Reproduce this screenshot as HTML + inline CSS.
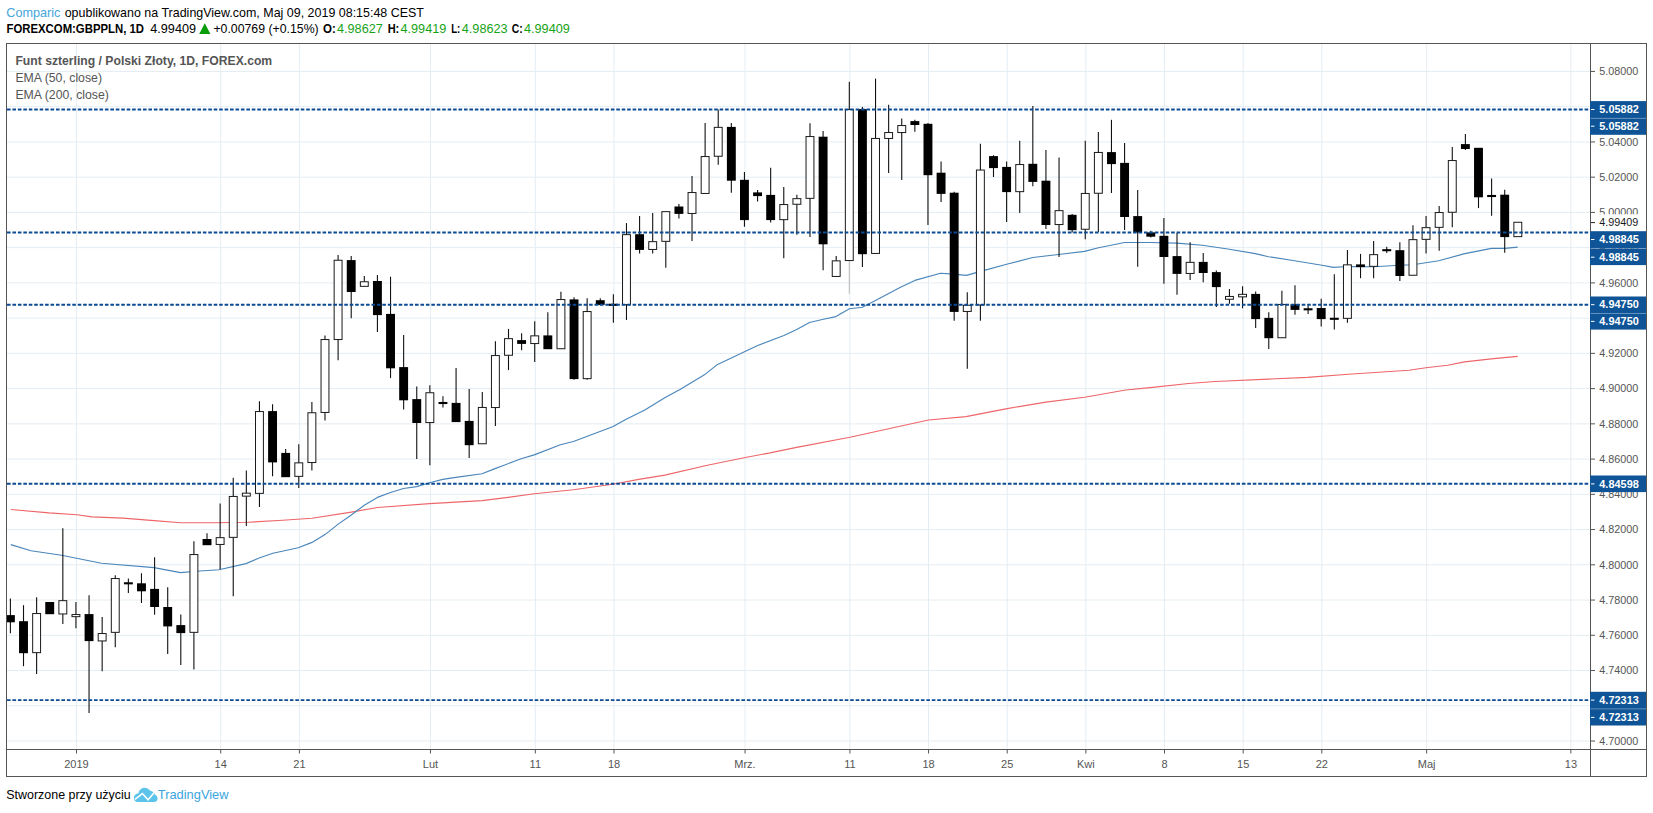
<!DOCTYPE html>
<html lang="pl"><head><meta charset="utf-8"><title>GBPPLN</title>
<style>html,body{margin:0;padding:0;background:#fff}body{width:1653px;height:813px;overflow:hidden}svg{display:block;position:absolute;left:0;top:0}text{font-family:"Liberation Sans",sans-serif}</style></head><body>
<svg width="1653" height="813" viewBox="0 0 1653 813">
<rect width="1653" height="813" fill="#fff"/>
<g stroke="#e4edf3" stroke-width="1" fill="none">
<path d="M7 71.45H1590"/>
<path d="M7 106.69H1590"/>
<path d="M7 141.93H1590"/>
<path d="M7 177.17H1590"/>
<path d="M7 212.41H1590"/>
<path d="M7 247.65H1590"/>
<path d="M7 282.89H1590"/>
<path d="M7 318.13H1590"/>
<path d="M7 353.37H1590"/>
<path d="M7 388.61H1590"/>
<path d="M7 423.85H1590"/>
<path d="M7 459.09H1590"/>
<path d="M7 494.33H1590"/>
<path d="M7 529.57H1590"/>
<path d="M7 564.81H1590"/>
<path d="M7 600.05H1590"/>
<path d="M7 635.29H1590"/>
<path d="M7 670.53H1590"/>
<path d="M7 705.77H1590"/>
<path d="M7 741.01H1590"/>
<path d="M76.54 44V749"/>
<path d="M220.73 44V749"/>
<path d="M299.38 44V749"/>
<path d="M430.46 44V749"/>
<path d="M535.32 44V749"/>
<path d="M613.97 44V749"/>
<path d="M745.05 44V749"/>
<path d="M849.91 44V749"/>
<path d="M928.56 44V749"/>
<path d="M1007.21 44V749"/>
<path d="M1085.86 44V749"/>
<path d="M1164.50 44V749"/>
<path d="M1243.15 44V749"/>
<path d="M1321.80 44V749"/>
<path d="M1426.66 44V749"/>
<path d="M1570.85 44V749"/>
</g>
<polyline points="10.8,509.5 49.0,512.9 77.0,514.7 92.0,516.9 123.0,518.1 154.0,520.6 181.0,522.7 215.0,522.7 248.0,522.3 282.7,520.2 312.0,518.3 351.3,512.1 377.4,507.5 429.7,503.6 482.0,500.6 508.0,497.4 534.2,493.8 573.4,489.8 612.6,484.3 638.8,479.4 664.9,475.1 707.4,465.3 746.6,457.2 770.0,452.9 796.6,447.4 849.9,437.2 888.6,428.7 928.5,420.0 966.0,416.6 1007.1,408.6 1045.9,402.1 1084.6,397.3 1125.7,390.0 1150.0,387.6 1188.7,383.5 1215.3,381.5 1268.6,379.1 1307.3,377.4 1348.4,374.3 1408.9,370.2 1425.9,367.8 1447.6,365.3 1464.6,361.9 1493.6,358.6 1517.8,356.4" fill="none" stroke="#ee6669" stroke-width="1.15" stroke-linejoin="round"/>
<polyline points="10.8,544.6 31.0,550.7 61.5,555.3 101.5,563.3 154.0,567.6 180.5,572.6 200.0,571.0 219.0,569.8 246.0,563.6 259.8,557.8 272.9,553.2 298.3,547.7 312.0,542.4 325.0,534.6 338.2,524.1 351.3,515.0 364.3,505.2 377.4,497.4 390.5,492.5 403.5,488.5 416.6,486.6 429.7,482.7 442.7,479.4 455.8,477.4 482.0,473.8 495.0,468.6 521.2,458.8 534.2,454.9 560.4,444.8 573.4,441.5 612.6,426.8 625.7,419.6 644.8,410.0 665.6,397.2 680.0,389.5 704.0,375.1 717.6,364.4 745.5,351.2 758.3,345.2 783.9,335.5 796.7,329.6 809.5,322.5 822.3,319.5 835.9,316.6 849.5,308.8 862.3,307.2 875.0,300.8 900.0,287.4 914.8,280.4 940.6,273.2 953.5,274.1 966.4,275.4 980.6,271.4 1007.6,264.0 1032.8,257.5 1058.6,254.5 1084.5,251.4 1098.5,247.8 1124.6,242.5 1150.7,242.5 1176.6,243.1 1202.4,245.3 1229.4,249.3 1255.3,253.6 1268.5,256.7 1294.6,260.7 1320.5,265.0 1333.5,267.4 1347.7,266.5 1373.8,266.8 1399.6,265.3 1412.9,264.7 1438.7,260.7 1464.8,253.6 1491.6,248.4 1504.5,248.4 1517.7,247.1" fill="none" stroke="#4a86bb" stroke-width="1.15" stroke-linejoin="round"/>
<clipPath id="cc"><rect x="7" y="44" width="1583" height="705"/></clipPath>
<g clip-path="url(#cc)">
<path d="M10.40 598.4V633.3" stroke="#111" stroke-width="1.1"/>
<rect x="5.95" y="615.10" width="8.90" height="7.20" fill="#000"/>
<path d="M23.51 605.2V666.2" stroke="#111" stroke-width="1.1"/>
<rect x="19.06" y="621.20" width="8.90" height="32.00" fill="#000"/>
<path d="M36.62 597.3V674.0" stroke="#111" stroke-width="1.1"/>
<rect x="32.67" y="613.55" width="7.90" height="39.10" fill="#fff" stroke="#1a1a1a" stroke-width="1"/>
<path d="M49.72 602.3V613.9" stroke="#111" stroke-width="1.1"/>
<rect x="45.27" y="602.00" width="8.90" height="12.20" fill="#000"/>
<path d="M62.83 528.3V623.9" stroke="#111" stroke-width="1.1"/>
<rect x="58.88" y="600.65" width="7.90" height="13.30" fill="#fff" stroke="#1a1a1a" stroke-width="1"/>
<path d="M75.94 602.1V628.2" stroke="#111" stroke-width="1.1"/>
<rect x="71.99" y="614.55" width="7.90" height="2.10" fill="#fff" stroke="#1a1a1a" stroke-width="1"/>
<path d="M89.05 595.3V713.1" stroke="#111" stroke-width="1.1"/>
<rect x="84.60" y="614.10" width="8.90" height="27.00" fill="#000"/>
<path d="M102.16 617.1V671.3" stroke="#111" stroke-width="1.1"/>
<rect x="98.21" y="633.55" width="7.90" height="7.40" fill="#fff" stroke="#1a1a1a" stroke-width="1"/>
<path d="M115.26 575.3V647.3" stroke="#111" stroke-width="1.1"/>
<rect x="111.31" y="578.55" width="7.90" height="53.80" fill="#fff" stroke="#1a1a1a" stroke-width="1"/>
<path d="M128.37 578.4V592.9" stroke="#111" stroke-width="1.1"/>
<path d="M123.92 583.3H132.82" stroke="#000" stroke-width="2.1"/>
<path d="M141.48 573.2V603.0" stroke="#111" stroke-width="1.1"/>
<rect x="137.03" y="583.30" width="8.90" height="8.00" fill="#000"/>
<path d="M154.59 557.2V614.7" stroke="#111" stroke-width="1.1"/>
<rect x="150.14" y="588.90" width="8.90" height="18.10" fill="#000"/>
<path d="M167.70 587.3V654.0" stroke="#111" stroke-width="1.1"/>
<rect x="163.25" y="607.00" width="8.90" height="19.40" fill="#000"/>
<path d="M180.80 614.4V665.1" stroke="#111" stroke-width="1.1"/>
<rect x="176.35" y="625.10" width="8.90" height="8.00" fill="#000"/>
<path d="M193.91 541.2V669.4" stroke="#111" stroke-width="1.1"/>
<rect x="189.96" y="554.55" width="7.90" height="77.80" fill="#fff" stroke="#1a1a1a" stroke-width="1"/>
<path d="M207.02 533.2V544.9" stroke="#111" stroke-width="1.1"/>
<rect x="202.57" y="539.00" width="8.90" height="6.20" fill="#000"/>
<path d="M220.13 503.4V569.2" stroke="#111" stroke-width="1.1"/>
<rect x="216.18" y="537.65" width="7.90" height="6.80" fill="#fff" stroke="#1a1a1a" stroke-width="1"/>
<path d="M233.24 477.8V596.2" stroke="#111" stroke-width="1.1"/>
<rect x="229.29" y="496.45" width="7.90" height="40.90" fill="#fff" stroke="#1a1a1a" stroke-width="1"/>
<path d="M246.34 470.4V526.1" stroke="#111" stroke-width="1.1"/>
<rect x="242.39" y="493.15" width="7.90" height="3.00" fill="#fff" stroke="#1a1a1a" stroke-width="1"/>
<path d="M259.45 401.2V507.0" stroke="#111" stroke-width="1.1"/>
<rect x="255.50" y="411.55" width="7.90" height="81.80" fill="#fff" stroke="#1a1a1a" stroke-width="1"/>
<path d="M272.56 404.3V476.2" stroke="#111" stroke-width="1.1"/>
<rect x="268.11" y="411.10" width="8.90" height="51.30" fill="#000"/>
<path d="M285.67 448.9V476.9" stroke="#111" stroke-width="1.1"/>
<rect x="281.22" y="452.90" width="8.90" height="24.30" fill="#000"/>
<path d="M298.78 444.3V487.9" stroke="#111" stroke-width="1.1"/>
<rect x="294.83" y="462.85" width="7.90" height="13.50" fill="#fff" stroke="#1a1a1a" stroke-width="1"/>
<path d="M311.88 402.1V470.4" stroke="#111" stroke-width="1.1"/>
<rect x="307.93" y="412.75" width="7.90" height="49.80" fill="#fff" stroke="#1a1a1a" stroke-width="1"/>
<path d="M324.99 335.4V420.6" stroke="#111" stroke-width="1.1"/>
<rect x="321.04" y="339.55" width="7.90" height="72.90" fill="#fff" stroke="#1a1a1a" stroke-width="1"/>
<path d="M338.10 255.1V360.3" stroke="#111" stroke-width="1.1"/>
<rect x="334.15" y="260.25" width="7.90" height="79.30" fill="#fff" stroke="#1a1a1a" stroke-width="1"/>
<path d="M351.21 256.1V318.2" stroke="#111" stroke-width="1.1"/>
<rect x="346.76" y="260.10" width="8.90" height="31.90" fill="#000"/>
<path d="M364.32 276.1V286.5" stroke="#111" stroke-width="1.1"/>
<rect x="360.37" y="281.75" width="7.90" height="4.60" fill="#fff" stroke="#1a1a1a" stroke-width="1"/>
<path d="M377.42 275.1V332.0" stroke="#111" stroke-width="1.1"/>
<rect x="372.97" y="281.00" width="8.90" height="34.10" fill="#000"/>
<path d="M390.53 276.7V378.1" stroke="#111" stroke-width="1.1"/>
<rect x="386.08" y="313.90" width="8.90" height="54.40" fill="#000"/>
<path d="M403.64 335.1V409.5" stroke="#111" stroke-width="1.1"/>
<rect x="399.19" y="367.10" width="8.90" height="33.20" fill="#000"/>
<path d="M416.75 386.4V459.0" stroke="#111" stroke-width="1.1"/>
<rect x="412.30" y="399.10" width="8.90" height="23.90" fill="#000"/>
<path d="M429.86 385.2V465.2" stroke="#111" stroke-width="1.1"/>
<rect x="425.91" y="392.75" width="7.90" height="29.80" fill="#fff" stroke="#1a1a1a" stroke-width="1"/>
<path d="M442.96 396.3V407.4" stroke="#111" stroke-width="1.1"/>
<path d="M438.51 403.0H447.41" stroke="#000" stroke-width="2.1"/>
<path d="M456.07 368.0V421.8" stroke="#111" stroke-width="1.1"/>
<rect x="451.62" y="402.90" width="8.90" height="19.20" fill="#000"/>
<path d="M469.18 388.9V458.1" stroke="#111" stroke-width="1.1"/>
<rect x="464.73" y="420.90" width="8.90" height="24.30" fill="#000"/>
<path d="M482.29 392.0V443.9" stroke="#111" stroke-width="1.1"/>
<rect x="478.34" y="407.45" width="7.90" height="36.30" fill="#fff" stroke="#1a1a1a" stroke-width="1"/>
<path d="M495.40 341.2V426.1" stroke="#111" stroke-width="1.1"/>
<rect x="491.45" y="355.55" width="7.90" height="52.00" fill="#fff" stroke="#1a1a1a" stroke-width="1"/>
<path d="M508.50 328.9V370.1" stroke="#111" stroke-width="1.1"/>
<rect x="504.55" y="338.65" width="7.90" height="16.60" fill="#fff" stroke="#1a1a1a" stroke-width="1"/>
<path d="M521.61 333.2V350.2" stroke="#111" stroke-width="1.1"/>
<rect x="517.16" y="340.10" width="8.90" height="3.80" fill="#000"/>
<path d="M534.72 321.2V362.1" stroke="#111" stroke-width="1.1"/>
<rect x="530.77" y="335.85" width="7.90" height="7.70" fill="#fff" stroke="#1a1a1a" stroke-width="1"/>
<path d="M547.83 312.3V348.9" stroke="#111" stroke-width="1.1"/>
<rect x="543.38" y="335.40" width="8.90" height="13.80" fill="#000"/>
<path d="M560.94 291.7V348.9" stroke="#111" stroke-width="1.1"/>
<rect x="556.99" y="299.55" width="7.90" height="49.20" fill="#fff" stroke="#1a1a1a" stroke-width="1"/>
<path d="M574.04 297.3V379.7" stroke="#111" stroke-width="1.1"/>
<rect x="569.59" y="299.40" width="8.90" height="79.70" fill="#000"/>
<path d="M587.15 298.2V379.7" stroke="#111" stroke-width="1.1"/>
<rect x="583.20" y="311.55" width="7.90" height="67.10" fill="#fff" stroke="#1a1a1a" stroke-width="1"/>
<path d="M600.26 298.2V305.6" stroke="#111" stroke-width="1.1"/>
<rect x="595.81" y="300.20" width="8.90" height="4.70" fill="#000"/>
<path d="M613.37 294.3V322.8" stroke="#111" stroke-width="1.1"/>
<path d="M608.92 304.8H617.82" stroke="#000" stroke-width="2.1"/>
<path d="M626.48 223.1V320.0" stroke="#111" stroke-width="1.1"/>
<rect x="622.53" y="234.65" width="7.90" height="70.00" fill="#fff" stroke="#1a1a1a" stroke-width="1"/>
<path d="M639.58 216.1V253.6" stroke="#111" stroke-width="1.1"/>
<rect x="635.13" y="234.20" width="8.90" height="15.70" fill="#000"/>
<path d="M652.69 213.0V253.6" stroke="#111" stroke-width="1.1"/>
<rect x="648.74" y="241.65" width="7.90" height="7.80" fill="#fff" stroke="#1a1a1a" stroke-width="1"/>
<path d="M665.80 211.5V267.8" stroke="#111" stroke-width="1.1"/>
<rect x="661.85" y="211.65" width="7.90" height="29.70" fill="#fff" stroke="#1a1a1a" stroke-width="1"/>
<path d="M678.91 204.1V218.5" stroke="#111" stroke-width="1.1"/>
<rect x="674.46" y="206.50" width="8.90" height="7.40" fill="#000"/>
<path d="M692.02 176.1V241.0" stroke="#111" stroke-width="1.1"/>
<rect x="688.07" y="192.55" width="7.90" height="20.90" fill="#fff" stroke="#1a1a1a" stroke-width="1"/>
<path d="M705.12 122.9V193.6" stroke="#111" stroke-width="1.1"/>
<rect x="701.17" y="156.55" width="7.90" height="36.90" fill="#fff" stroke="#1a1a1a" stroke-width="1"/>
<path d="M718.23 109.4V164.7" stroke="#111" stroke-width="1.1"/>
<rect x="714.28" y="127.35" width="7.90" height="28.90" fill="#fff" stroke="#1a1a1a" stroke-width="1"/>
<path d="M731.34 122.9V192.7" stroke="#111" stroke-width="1.1"/>
<rect x="726.89" y="126.90" width="8.90" height="53.80" fill="#000"/>
<path d="M744.45 172.1V226.8" stroke="#111" stroke-width="1.1"/>
<rect x="740.00" y="179.80" width="8.90" height="40.30" fill="#000"/>
<path d="M757.56 189.9V201.6" stroke="#111" stroke-width="1.1"/>
<rect x="753.11" y="192.40" width="8.90" height="3.70" fill="#000"/>
<path d="M770.66 167.8V222.5" stroke="#111" stroke-width="1.1"/>
<rect x="766.21" y="194.90" width="8.90" height="25.20" fill="#000"/>
<path d="M783.77 186.9V258.2" stroke="#111" stroke-width="1.1"/>
<rect x="779.82" y="204.55" width="7.90" height="15.10" fill="#fff" stroke="#1a1a1a" stroke-width="1"/>
<path d="M796.88 194.8V234.8" stroke="#111" stroke-width="1.1"/>
<rect x="792.93" y="198.65" width="7.90" height="5.60" fill="#fff" stroke="#1a1a1a" stroke-width="1"/>
<path d="M809.99 123.2V237.0" stroke="#111" stroke-width="1.1"/>
<rect x="806.04" y="136.55" width="7.90" height="61.80" fill="#fff" stroke="#1a1a1a" stroke-width="1"/>
<path d="M823.10 130.9V270.2" stroke="#111" stroke-width="1.1"/>
<rect x="818.65" y="136.70" width="8.90" height="107.60" fill="#000"/>
<path d="M836.20 256.0V277.0" stroke="#111" stroke-width="1.1"/>
<rect x="832.25" y="260.85" width="7.90" height="15.60" fill="#fff" stroke="#1a1a1a" stroke-width="1"/>
<path d="M849.31 260.7V293.7" stroke="#bdbdbd" stroke-width="1.1"/>
<path d="M849.31 81.7V260.7" stroke="#111" stroke-width="1.1"/>
<rect x="845.36" y="109.55" width="7.90" height="151.00" fill="#fff" stroke="#1a1a1a" stroke-width="1"/>
<path d="M862.42 106.9V267.1" stroke="#111" stroke-width="1.1"/>
<rect x="857.97" y="109.10" width="8.90" height="145.10" fill="#000"/>
<path d="M875.53 78.6V253.6" stroke="#111" stroke-width="1.1"/>
<rect x="871.58" y="138.45" width="7.90" height="115.00" fill="#fff" stroke="#1a1a1a" stroke-width="1"/>
<path d="M888.64 104.7V173.0" stroke="#111" stroke-width="1.1"/>
<rect x="884.69" y="132.55" width="7.90" height="5.90" fill="#fff" stroke="#1a1a1a" stroke-width="1"/>
<path d="M901.74 118.6V180.1" stroke="#111" stroke-width="1.1"/>
<rect x="897.79" y="125.55" width="7.90" height="7.00" fill="#fff" stroke="#1a1a1a" stroke-width="1"/>
<path d="M914.85 119.8V131.8" stroke="#111" stroke-width="1.1"/>
<rect x="910.40" y="121.10" width="8.90" height="3.90" fill="#000"/>
<path d="M927.96 122.9V225.0" stroke="#111" stroke-width="1.1"/>
<rect x="923.51" y="123.80" width="8.90" height="51.40" fill="#000"/>
<path d="M941.07 161.6V201.9" stroke="#111" stroke-width="1.1"/>
<rect x="936.62" y="172.70" width="8.90" height="21.20" fill="#000"/>
<path d="M954.18 191.8V320.8" stroke="#111" stroke-width="1.1"/>
<rect x="949.73" y="192.70" width="8.90" height="119.20" fill="#000"/>
<path d="M967.28 292.2V368.8" stroke="#111" stroke-width="1.1"/>
<rect x="963.33" y="305.25" width="7.90" height="6.20" fill="#fff" stroke="#1a1a1a" stroke-width="1"/>
<path d="M980.39 143.8V320.8" stroke="#111" stroke-width="1.1"/>
<rect x="976.44" y="170.05" width="7.90" height="134.90" fill="#fff" stroke="#1a1a1a" stroke-width="1"/>
<path d="M993.50 155.2V177.0" stroke="#111" stroke-width="1.1"/>
<rect x="989.05" y="156.10" width="8.90" height="12.00" fill="#000"/>
<path d="M1006.61 161.6V221.9" stroke="#111" stroke-width="1.1"/>
<rect x="1002.16" y="166.90" width="8.90" height="25.20" fill="#000"/>
<path d="M1019.72 140.7V213.0" stroke="#111" stroke-width="1.1"/>
<rect x="1015.77" y="164.55" width="7.90" height="27.10" fill="#fff" stroke="#1a1a1a" stroke-width="1"/>
<path d="M1032.82 106.0V186.2" stroke="#111" stroke-width="1.1"/>
<rect x="1028.37" y="163.80" width="8.90" height="18.10" fill="#000"/>
<path d="M1045.93 150.0V229.0" stroke="#111" stroke-width="1.1"/>
<rect x="1041.48" y="180.70" width="8.90" height="44.30" fill="#000"/>
<path d="M1059.04 157.6V257.0" stroke="#111" stroke-width="1.1"/>
<rect x="1055.09" y="210.65" width="7.90" height="13.90" fill="#fff" stroke="#1a1a1a" stroke-width="1"/>
<path d="M1072.15 213.9V232.4" stroke="#111" stroke-width="1.1"/>
<rect x="1067.70" y="214.80" width="8.90" height="15.40" fill="#000"/>
<path d="M1085.26 140.7V239.2" stroke="#111" stroke-width="1.1"/>
<rect x="1081.31" y="193.45" width="7.90" height="35.80" fill="#fff" stroke="#1a1a1a" stroke-width="1"/>
<path d="M1098.36 132.0V232.0" stroke="#111" stroke-width="1.1"/>
<rect x="1094.41" y="152.45" width="7.90" height="40.80" fill="#fff" stroke="#1a1a1a" stroke-width="1"/>
<path d="M1111.47 119.8V193.0" stroke="#111" stroke-width="1.1"/>
<rect x="1107.02" y="152.10" width="8.90" height="12.00" fill="#000"/>
<path d="M1124.58 142.9V229.9" stroke="#111" stroke-width="1.1"/>
<rect x="1120.13" y="162.90" width="8.90" height="54.10" fill="#000"/>
<path d="M1137.69 190.0V266.8" stroke="#111" stroke-width="1.1"/>
<rect x="1133.24" y="216.10" width="8.90" height="16.30" fill="#000"/>
<path d="M1150.80 230.8V237.6" stroke="#111" stroke-width="1.1"/>
<rect x="1146.35" y="232.40" width="8.90" height="4.30" fill="#000"/>
<path d="M1163.90 217.9V283.7" stroke="#111" stroke-width="1.1"/>
<rect x="1159.45" y="235.80" width="8.90" height="21.20" fill="#000"/>
<path d="M1177.01 233.0V294.8" stroke="#111" stroke-width="1.1"/>
<rect x="1172.56" y="256.10" width="8.90" height="17.80" fill="#000"/>
<path d="M1190.12 242.2V280.0" stroke="#111" stroke-width="1.1"/>
<rect x="1186.17" y="262.35" width="7.90" height="11.10" fill="#fff" stroke="#1a1a1a" stroke-width="1"/>
<path d="M1203.23 253.0V282.2" stroke="#111" stroke-width="1.1"/>
<rect x="1198.78" y="261.90" width="8.90" height="11.10" fill="#000"/>
<path d="M1216.34 270.5V307.1" stroke="#111" stroke-width="1.1"/>
<rect x="1211.89" y="272.10" width="8.90" height="15.00" fill="#000"/>
<path d="M1229.44 289.0V303.7" stroke="#111" stroke-width="1.1"/>
<rect x="1225.49" y="296.45" width="7.90" height="2.80" fill="#fff" stroke="#1a1a1a" stroke-width="1"/>
<path d="M1242.55 286.2V308.3" stroke="#111" stroke-width="1.1"/>
<rect x="1238.60" y="294.35" width="7.90" height="2.50" fill="#fff" stroke="#1a1a1a" stroke-width="1"/>
<path d="M1255.66 291.4V328.0" stroke="#111" stroke-width="1.1"/>
<rect x="1251.21" y="293.90" width="8.90" height="25.20" fill="#000"/>
<path d="M1268.77 312.3V348.9" stroke="#111" stroke-width="1.1"/>
<rect x="1264.32" y="317.90" width="8.90" height="20.30" fill="#000"/>
<path d="M1281.88 290.8V337.9" stroke="#111" stroke-width="1.1"/>
<rect x="1277.93" y="304.45" width="7.90" height="33.30" fill="#fff" stroke="#1a1a1a" stroke-width="1"/>
<path d="M1294.98 285.3V314.8" stroke="#111" stroke-width="1.1"/>
<rect x="1290.53" y="304.30" width="8.90" height="5.60" fill="#000"/>
<path d="M1308.09 305.6V313.9" stroke="#111" stroke-width="1.1"/>
<path d="M1303.64 309.3H1312.54" stroke="#000" stroke-width="2.1"/>
<path d="M1321.20 298.8V326.5" stroke="#111" stroke-width="1.1"/>
<rect x="1316.75" y="308.00" width="8.90" height="11.10" fill="#000"/>
<path d="M1334.31 274.2V329.6" stroke="#111" stroke-width="1.1"/>
<path d="M1329.86 318.8H1338.76" stroke="#000" stroke-width="2.1"/>
<path d="M1347.42 249.9V322.8" stroke="#111" stroke-width="1.1"/>
<rect x="1343.47" y="264.85" width="7.90" height="53.50" fill="#fff" stroke="#1a1a1a" stroke-width="1"/>
<path d="M1360.52 253.9V278.2" stroke="#111" stroke-width="1.1"/>
<rect x="1356.07" y="264.40" width="8.90" height="2.70" fill="#000"/>
<path d="M1373.63 241.0V278.2" stroke="#111" stroke-width="1.1"/>
<rect x="1369.68" y="254.65" width="7.90" height="11.70" fill="#fff" stroke="#1a1a1a" stroke-width="1"/>
<path d="M1386.74 246.8V253.0" stroke="#111" stroke-width="1.1"/>
<path d="M1382.29 250.2H1391.19" stroke="#000" stroke-width="2.1"/>
<path d="M1399.85 242.2V281.0" stroke="#111" stroke-width="1.1"/>
<rect x="1395.40" y="250.20" width="8.90" height="25.80" fill="#000"/>
<path d="M1412.96 225.3V275.4" stroke="#111" stroke-width="1.1"/>
<rect x="1409.01" y="239.65" width="7.90" height="35.60" fill="#fff" stroke="#1a1a1a" stroke-width="1"/>
<path d="M1426.06 216.1V253.6" stroke="#111" stroke-width="1.1"/>
<rect x="1422.11" y="227.65" width="7.90" height="11.70" fill="#fff" stroke="#1a1a1a" stroke-width="1"/>
<path d="M1439.17 205.9V250.8" stroke="#111" stroke-width="1.1"/>
<rect x="1435.22" y="212.55" width="7.90" height="14.80" fill="#fff" stroke="#1a1a1a" stroke-width="1"/>
<path d="M1452.28 146.9V227.2" stroke="#111" stroke-width="1.1"/>
<rect x="1448.33" y="160.55" width="7.90" height="51.70" fill="#fff" stroke="#1a1a1a" stroke-width="1"/>
<path d="M1465.39 134.0V150.0" stroke="#111" stroke-width="1.1"/>
<rect x="1460.94" y="144.10" width="8.90" height="4.90" fill="#000"/>
<path d="M1478.50 148.1V208.1" stroke="#111" stroke-width="1.1"/>
<rect x="1474.05" y="147.80" width="8.90" height="49.50" fill="#000"/>
<path d="M1491.60 178.6V215.8" stroke="#111" stroke-width="1.1"/>
<path d="M1487.15 196.0H1496.05" stroke="#000" stroke-width="2.1"/>
<path d="M1504.71 189.8V252.8" stroke="#111" stroke-width="1.1"/>
<rect x="1500.26" y="194.70" width="8.90" height="42.40" fill="#000"/>
<path d="M1517.82 222.1V236.8" stroke="#111" stroke-width="1.1"/>
<rect x="1513.87" y="222.25" width="7.90" height="14.40" fill="#fff" stroke="#1a1a1a" stroke-width="1"/>
</g>
<path d="M7 109.5H1590" stroke="#0b4a94" stroke-width="1.9" stroke-dasharray="3.6 1.84" fill="none"/>
<path d="M7 232.5H1590" stroke="#0b4a94" stroke-width="1.9" stroke-dasharray="3.6 1.84" fill="none"/>
<path d="M7 304.7H1590" stroke="#0b4a94" stroke-width="1.9" stroke-dasharray="3.6 1.84" fill="none"/>
<path d="M7 483.8H1590" stroke="#0b4a94" stroke-width="1.9" stroke-dasharray="3.6 1.84" fill="none"/>
<path d="M7 700.1H1590" stroke="#0b4a94" stroke-width="1.9" stroke-dasharray="3.6 1.84" fill="none"/>
<g stroke="#555" stroke-width="1" fill="none">
<rect x="6.5" y="43.5" width="1640.0" height="733.0"/>
<path d="M1590.5 43.5V776.5"/>
<path d="M6.5 749.5H1646.5"/>
</g>
<g font-size="11.3" fill="#555">
<path d="M1591 71.45H1595" stroke="#555" stroke-width="1"/>
<text x="1599.3" y="75.2" textLength="39" lengthAdjust="spacingAndGlyphs">5.08000</text>
<path d="M1591 141.93H1595" stroke="#555" stroke-width="1"/>
<text x="1599.3" y="145.6" textLength="39" lengthAdjust="spacingAndGlyphs">5.04000</text>
<path d="M1591 177.17H1595" stroke="#555" stroke-width="1"/>
<text x="1599.3" y="180.9" textLength="39" lengthAdjust="spacingAndGlyphs">5.02000</text>
<path d="M1591 212.41H1595" stroke="#555" stroke-width="1"/>
<text x="1599.3" y="216.1" textLength="39" lengthAdjust="spacingAndGlyphs">5.00000</text>
<path d="M1591 247.65H1595" stroke="#555" stroke-width="1"/>
<text x="1599.3" y="251.4" textLength="39" lengthAdjust="spacingAndGlyphs">4.98000</text>
<path d="M1591 282.89H1595" stroke="#555" stroke-width="1"/>
<text x="1599.3" y="286.6" textLength="39" lengthAdjust="spacingAndGlyphs">4.96000</text>
<path d="M1591 353.37H1595" stroke="#555" stroke-width="1"/>
<text x="1599.3" y="357.1" textLength="39" lengthAdjust="spacingAndGlyphs">4.92000</text>
<path d="M1591 388.61H1595" stroke="#555" stroke-width="1"/>
<text x="1599.3" y="392.3" textLength="39" lengthAdjust="spacingAndGlyphs">4.90000</text>
<path d="M1591 423.85H1595" stroke="#555" stroke-width="1"/>
<text x="1599.3" y="427.6" textLength="39" lengthAdjust="spacingAndGlyphs">4.88000</text>
<path d="M1591 459.09H1595" stroke="#555" stroke-width="1"/>
<text x="1599.3" y="462.8" textLength="39" lengthAdjust="spacingAndGlyphs">4.86000</text>
<path d="M1591 494.33H1595" stroke="#555" stroke-width="1"/>
<text x="1599.3" y="498.0" textLength="39" lengthAdjust="spacingAndGlyphs">4.84000</text>
<path d="M1591 529.57H1595" stroke="#555" stroke-width="1"/>
<text x="1599.3" y="533.3" textLength="39" lengthAdjust="spacingAndGlyphs">4.82000</text>
<path d="M1591 564.81H1595" stroke="#555" stroke-width="1"/>
<text x="1599.3" y="568.5" textLength="39" lengthAdjust="spacingAndGlyphs">4.80000</text>
<path d="M1591 600.05H1595" stroke="#555" stroke-width="1"/>
<text x="1599.3" y="603.8" textLength="39" lengthAdjust="spacingAndGlyphs">4.78000</text>
<path d="M1591 635.29H1595" stroke="#555" stroke-width="1"/>
<text x="1599.3" y="639.0" textLength="39" lengthAdjust="spacingAndGlyphs">4.76000</text>
<path d="M1591 670.53H1595" stroke="#555" stroke-width="1"/>
<text x="1599.3" y="674.2" textLength="39" lengthAdjust="spacingAndGlyphs">4.74000</text>
<path d="M1591 741.01H1595" stroke="#555" stroke-width="1"/>
<text x="1599.3" y="744.7" textLength="39" lengthAdjust="spacingAndGlyphs">4.70000</text>
</g>
<rect x="1591" y="214.3" width="55" height="17" fill="#fff"/>
<path d="M1591 222.6H1595" stroke="#222" stroke-width="1"/>
<text x="1599.3" y="226.1" font-size="11.3" fill="#1a1a1a" textLength="39" lengthAdjust="spacingAndGlyphs">4.99409</text>
<rect x="1590" y="101.1" width="56.5" height="17.0" fill="#0e5496"/>
<path d="M1591 109.5H1594.5" stroke="#fff" stroke-width="1"/>
<text x="1599.3" y="113.1" font-size="11.3" font-weight="bold" fill="#fff" textLength="39.5" lengthAdjust="spacingAndGlyphs">5.05882</text>
<rect x="1590" y="118.4" width="56.5" height="16.4" fill="#0e5496"/>
<path d="M1591 126.2H1594.5" stroke="#fff" stroke-width="1"/>
<text x="1599.3" y="129.8" font-size="11.3" font-weight="bold" fill="#fff" textLength="39.5" lengthAdjust="spacingAndGlyphs">5.05882</text>
<rect x="1590" y="231.2" width="56.5" height="17.0" fill="#0e5496"/>
<path d="M1591 239.5H1594.5" stroke="#fff" stroke-width="1"/>
<text x="1599.3" y="243.1" font-size="11.3" font-weight="bold" fill="#fff" textLength="39.5" lengthAdjust="spacingAndGlyphs">4.98845</text>
<rect x="1590" y="248.7" width="56.5" height="16.4" fill="#0e5496"/>
<path d="M1591 257.2H1594.5" stroke="#fff" stroke-width="1"/>
<text x="1599.3" y="260.8" font-size="11.3" font-weight="bold" fill="#fff" textLength="39.5" lengthAdjust="spacingAndGlyphs">4.98845</text>
<rect x="1590" y="296.5" width="56.5" height="16.8" fill="#0e5496"/>
<path d="M1591 304.7H1594.5" stroke="#fff" stroke-width="1"/>
<text x="1599.3" y="308.3" font-size="11.3" font-weight="bold" fill="#fff" textLength="39.5" lengthAdjust="spacingAndGlyphs">4.94750</text>
<rect x="1590" y="313.6" width="56.5" height="16.0" fill="#0e5496"/>
<path d="M1591 321.4H1594.5" stroke="#fff" stroke-width="1"/>
<text x="1599.3" y="325.0" font-size="11.3" font-weight="bold" fill="#fff" textLength="39.5" lengthAdjust="spacingAndGlyphs">4.94750</text>
<rect x="1590" y="475.5" width="56.5" height="16.6" fill="#0e5496"/>
<path d="M1591 483.9H1594.5" stroke="#fff" stroke-width="1"/>
<text x="1599.3" y="487.5" font-size="11.3" font-weight="bold" fill="#fff" textLength="39.5" lengthAdjust="spacingAndGlyphs">4.84598</text>
<rect x="1590" y="691.8" width="56.5" height="17.0" fill="#0e5496"/>
<path d="M1591 700.1H1594.5" stroke="#fff" stroke-width="1"/>
<text x="1599.3" y="703.7" font-size="11.3" font-weight="bold" fill="#fff" textLength="39.5" lengthAdjust="spacingAndGlyphs">4.72313</text>
<rect x="1590" y="709.1" width="56.5" height="16.4" fill="#0e5496"/>
<path d="M1591 717.4H1594.5" stroke="#fff" stroke-width="1"/>
<text x="1599.3" y="721.0" font-size="11.3" font-weight="bold" fill="#fff" textLength="39.5" lengthAdjust="spacingAndGlyphs">4.72313</text>
<path d="M1590 118.1H1646" stroke="#4f82b8" stroke-width="0.5"/>
<path d="M1590 248.4H1646" stroke="#4f82b8" stroke-width="0.5"/>
<path d="M1590 313.4H1646" stroke="#4f82b8" stroke-width="0.5"/>
<path d="M1590 708.9H1646" stroke="#4f82b8" stroke-width="0.5"/>
<path d="M1646.5 43.5V776.5" stroke="#555" stroke-width="1"/>
<g font-size="11" fill="#555" text-anchor="middle">
<path d="M76.54 750V753.5" stroke="#555" stroke-width="1"/>
<text x="76.5" y="768.3">2019</text>
<path d="M220.73 750V753.5" stroke="#555" stroke-width="1"/>
<text x="220.7" y="768.3">14</text>
<path d="M299.38 750V753.5" stroke="#555" stroke-width="1"/>
<text x="299.4" y="768.3">21</text>
<path d="M430.46 750V753.5" stroke="#555" stroke-width="1"/>
<text x="430.5" y="768.3">Lut</text>
<path d="M535.32 750V753.5" stroke="#555" stroke-width="1"/>
<text x="535.3" y="768.3">11</text>
<path d="M613.97 750V753.5" stroke="#555" stroke-width="1"/>
<text x="614.0" y="768.3">18</text>
<path d="M745.05 750V753.5" stroke="#555" stroke-width="1"/>
<text x="745.0" y="768.3">Mrz.</text>
<path d="M849.91 750V753.5" stroke="#555" stroke-width="1"/>
<text x="849.9" y="768.3">11</text>
<path d="M928.56 750V753.5" stroke="#555" stroke-width="1"/>
<text x="928.6" y="768.3">18</text>
<path d="M1007.21 750V753.5" stroke="#555" stroke-width="1"/>
<text x="1007.2" y="768.3">25</text>
<path d="M1085.86 750V753.5" stroke="#555" stroke-width="1"/>
<text x="1085.9" y="768.3">Kwi</text>
<path d="M1164.50 750V753.5" stroke="#555" stroke-width="1"/>
<text x="1164.5" y="768.3">8</text>
<path d="M1243.15 750V753.5" stroke="#555" stroke-width="1"/>
<text x="1243.2" y="768.3">15</text>
<path d="M1321.80 750V753.5" stroke="#555" stroke-width="1"/>
<text x="1321.8" y="768.3">22</text>
<path d="M1426.66 750V753.5" stroke="#555" stroke-width="1"/>
<text x="1426.7" y="768.3">Maj</text>
<path d="M1570.85 750V753.5" stroke="#555" stroke-width="1"/>
<text x="1570.9" y="768.3">13</text>
</g>
<text x="15.4" y="64.5" font-size="12.4" font-weight="bold" fill="#555" textLength="256.8" lengthAdjust="spacingAndGlyphs">Funt szterling / Polski Złoty, 1D, FOREX.com</text>
<text x="15.4" y="81.8" font-size="12.4" fill="#555" textLength="86.6" lengthAdjust="spacingAndGlyphs">EMA (50, close)</text>
<text x="15.4" y="99" font-size="12.4" fill="#555" textLength="93.5" lengthAdjust="spacingAndGlyphs">EMA (200, close)</text>
<text x="6.3" y="17" font-size="12.6" fill="#45a5dc" textLength="54" lengthAdjust="spacingAndGlyphs">Comparic</text>
<text x="64.7" y="17" font-size="12.6" fill="#000" textLength="359.3" lengthAdjust="spacingAndGlyphs">opublikowano na TradingView.com, Maj 09, 2019 08:15:48 CEST</text>
<text x="6.5" y="33.4" font-size="12.6" font-weight="bold" fill="#000" textLength="137.5" lengthAdjust="spacingAndGlyphs">FOREXCOM:GBPPLN, 1D</text>
<text x="150.3" y="33.4" font-size="12.6" fill="#000" textLength="45.7" lengthAdjust="spacingAndGlyphs">4.99409</text>
<path d="M199.2 34L204.8 23.2L210.4 34Z" fill="#0a9d0a"/>
<text x="213.4" y="33.4" font-size="12.6" fill="#000" textLength="105.3" lengthAdjust="spacingAndGlyphs">+0.00769 (+0.15%)</text>
<text x="323" y="33.4" font-size="12.6" font-weight="bold" fill="#000" textLength="12.8" lengthAdjust="spacingAndGlyphs">O:</text>
<text x="337.0" y="33.4" font-size="12.6" fill="#17a317" textLength="45.8" lengthAdjust="spacingAndGlyphs">4.98627</text>
<text x="387.7" y="33.4" font-size="12.6" font-weight="bold" fill="#000" textLength="11.6" lengthAdjust="spacingAndGlyphs">H:</text>
<text x="400.5" y="33.4" font-size="12.6" fill="#17a317" textLength="45.8" lengthAdjust="spacingAndGlyphs">4.99419</text>
<text x="451.2" y="33.4" font-size="12.6" font-weight="bold" fill="#000" textLength="9.1" lengthAdjust="spacingAndGlyphs">L:</text>
<text x="461.8" y="33.4" font-size="12.6" fill="#17a317" textLength="45.8" lengthAdjust="spacingAndGlyphs">4.98623</text>
<text x="511.8" y="33.4" font-size="12.6" font-weight="bold" fill="#000" textLength="10.9" lengthAdjust="spacingAndGlyphs">C:</text>
<text x="524.0" y="33.4" font-size="12.6" fill="#17a317" textLength="45.8" lengthAdjust="spacingAndGlyphs">4.99409</text>
<text x="6.3" y="798.8" font-size="12.6" fill="#000" textLength="124.4" lengthAdjust="spacingAndGlyphs">Stworzone przy użyciu</text>
<g transform="translate(133.9,787.3)">
<path d="M3.6 14.7C1.4 14.7 0 12.9 0 10.4C0 8 1.8 6.1 4.6 5.9C4.9 2.9 7.4 0.4 10.6 0.4C12.9 0.4 14.6 1.4 15.7 2.9L19.9 4.9C20.6 5.6 20.9 6.4 20.8 7.2C22.6 8 23.7 9.6 23.7 11.2C23.7 13.2 22.2 14.7 20.2 14.7Z" fill="#5cc3ea"/>
<path d="M1.1 12.1L8.5 6.3L14.2 12.5L21.8 3.4" fill="none" stroke="#fff" stroke-width="1.45" stroke-linejoin="miter"/>
</g>
<text x="157.8" y="798.6" font-size="13" fill="#3aa5e0" textLength="70.7" lengthAdjust="spacingAndGlyphs">TradingView</text>
</svg></body></html>
